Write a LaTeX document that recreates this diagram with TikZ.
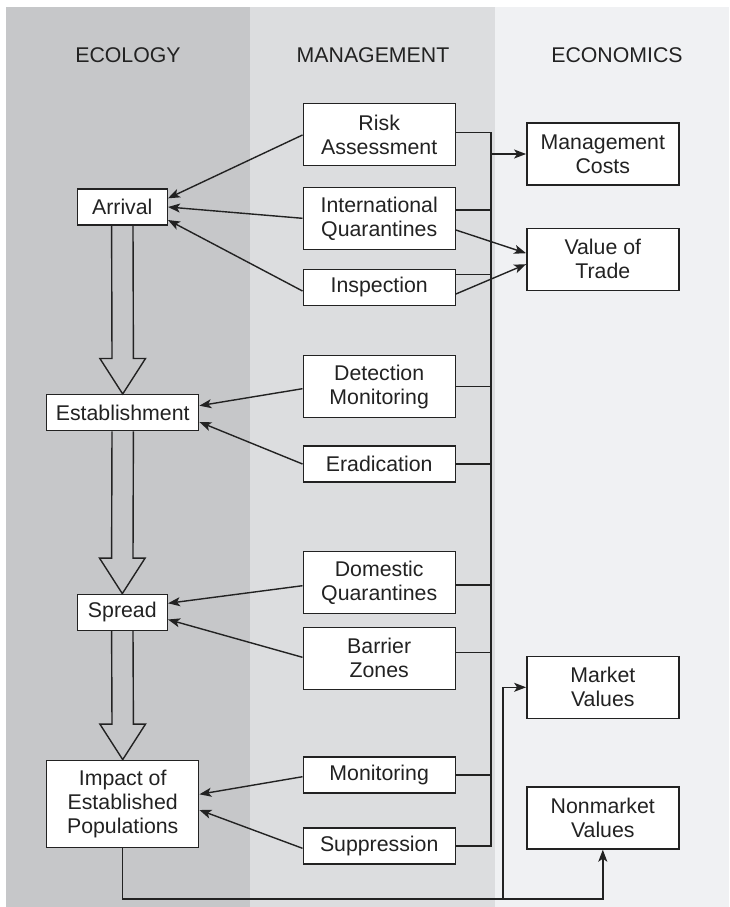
\documentclass[tikz,border=0pt]{standalone}
\usepackage{fontspec}
\setmainfont{Liberation Sans}
\usetikzlibrary{arrows.meta,calc}
\definecolor{ecolbg}{HTML}{C6C7C9}
\definecolor{mgmtbg}{HTML}{DCDDDF}
\definecolor{econbg}{HTML}{F0F1F3}
\definecolor{ink}{HTML}{222222}
\begin{document}
\begin{tikzpicture}[x=1pt,y=-1pt,
  font=\fontsize{21.3}{24}\selectfont,
  box/.style={draw=ink,fill=white,line width=1.4pt,text=ink,align=center,
    inner sep=0pt,minimum width=152pt,minimum height=36pt},
  tall/.style={box,minimum height=62pt},
  narrow/.style={box,minimum width=90pt},
  head/.style={text=ink},
  link/.style={draw=ink,line width=1.4pt},
  arr/.style={link,-{Stealth[length=12pt,width=9pt,inset=3pt]}},
  fat/.style={draw=ink,line width=1.4pt,line join=miter}]

% page and the three column bands
\useasboundingbox (0,0) rectangle (729,907);
\fill[white] (0,0) rectangle (729,907);
\fill[ecolbg] (6,7) rectangle (250,907);
\fill[mgmtbg] (250,7) rectangle (495,907);
\fill[econbg] (495,7) rectangle (729,907);

% column headings
\node[head] (hEco) at (128,55.5) {ECOLOGY};
\node[head] (hMan) at (373,55.5) {MANAGEMENT};
\node[head] (hEcn) at (617,55.5) {ECONOMICS};

% ecology stages
\node[narrow] (arrival) at (122.3,207) {Arrival};
\node[box] (establishment) at (122.7,412.7) {Establishment};
\node[narrow] (spread) at (122.3,612.3) {Spread};
\node[box,minimum height=87pt] (impact) at (122.7,803.8) {Impact of\\Established\\Populations};

% management actions
\node[tall] (risk) at (379.2,134.7) {Risk\\Assessment};
\node[tall] (intq) at (379.2,218.3) {International\\Quarantines};
\node[box] (inspection) at (379.2,287.3) {Inspection};
\node[tall] (detection) at (379.2,386.7) {Detection\\Monitoring};
\node[box] (eradication) at (379.2,464) {Eradication};
\node[tall] (domestic) at (379.2,582.5) {Domestic\\Quarantines};
\node[tall] (barrier) at (379.2,658.2) {Barrier\\Zones};
\node[box] (monitoring) at (379.2,775) {Monitoring};
\node[box] (suppression) at (379.2,846) {Suppression};

% economic outcomes
\node[tall] (costs) at (602.8,154) {Management\\Costs};
\node[tall] (trade) at (602.8,259.2) {Value of\\Trade};
\node[tall] (market) at (602.8,687.3) {Market\\Values};
\node[tall] (nonmarket) at (602.8,818) {Nonmarket\\Values};

% hollow stage-to-stage arrows
\foreach \a/\b in {arrival/establishment,establishment/spread,spread/impact}{
  \draw[fat] ($(\a.south)+(-10.7,0)$) -- ($(\b.north)+(-10.7,-35.5)$)
    -- ++(-12.1,0) -- (\b.north) -- ++(22.8,-35.5) -- ++(-12.1,0)
    -- ($(\a.south)+(10.7,0)$);
}

% management acting on ecology
\draw[arr] ([yshift=-0.3pt]risk.west) -- ([yshift=8.7pt]arrival.east);
\draw[arr] (intq.west) -- (arrival.east);
\draw[arr] ([yshift=-3.7pt]inspection.west) -- ([yshift=-13pt]arrival.east);
\draw[arr] ([yshift=-2pt]detection.west) -- ([yshift=7pt]establishment.east);
\draw[arr] (eradication.west) -- ([yshift=-9.3pt]establishment.east);
\draw[arr] ([yshift=-3.2pt]domestic.west) -- ([yshift=9pt]spread.east);
\draw[arr] ([yshift=0.9pt]barrier.west) -- ([yshift=-7.2pt]spread.east);
\draw[arr] ([yshift=-1.7pt]monitoring.west) -- ([yshift=9.5pt]impact.east);
\draw[arr] ([yshift=-2.3pt]suppression.west) -- ([yshift=-6.2pt]impact.east);

% cost bus collecting every management action
\coordinate (busbot) at (491,846);
\draw[link] ([yshift=2.4pt]risk.east) -| (busbot) -- (suppression.east);
\coordinate (iqR) at ([yshift=8.3pt]intq.east);
\coordinate (inR) at ([yshift=13pt]inspection.east);
\coordinate (dqR) at ([yshift=-2.5pt]domestic.east);
\coordinate (bzR) at ([yshift=5.5pt]barrier.east);
\draw[link] (iqR) -- (iqR -| busbot);
\draw[link] (inR) -- (inR -| busbot);
\draw[link] (detection.east) -- (detection.east -| busbot);
\draw[link] (eradication.east) -- (eradication.east -| busbot);
\draw[link] (dqR) -- (dqR -| busbot);
\draw[link] (bzR) -- (bzR -| busbot);
\draw[link] (monitoring.east) -- (monitoring.east -| busbot);
\draw[arr] (costs.west -| busbot) -- (costs.west);

% trade effects
\draw[arr] ([yshift=-11.7pt]intq.east) -- ([yshift=6pt]trade.west);
\draw[arr] ([yshift=-6.7pt]inspection.east) -- ([yshift=-5pt]trade.west);

% impacts feeding market and nonmarket values
\coordinate (floor) at (0,899);
\coordinate (branch) at (503,899);
\draw[arr] (impact.south) -- (impact.south |- floor) -| (nonmarket.south);
\draw[arr] (branch) |- (market.west);
\end{tikzpicture}
\end{document}
